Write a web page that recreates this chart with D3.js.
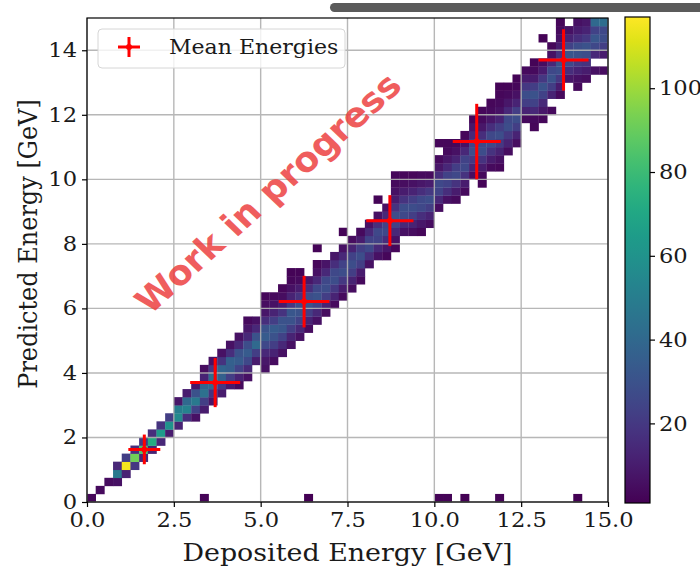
<!DOCTYPE html>
<html>
<head>
<meta charset="utf-8">
<script src="https://cdn.jsdelivr.net/npm/d3@7"></script>
<style>
  html, body { margin: 0; padding: 0; background: #fff; }
  svg { display: block; }
</style>
</head>
<body>
<svg id="chart" width="700" height="570"></svg>
<script>
// energy regression 2d histogram

// --- data ---
const xTicks = [0, 2.5, 5, 7.5, 10, 12.5, 15];
const yTicks = [0, 2, 4, 6, 8, 10, 12, 14];
const cbTicks = [20, 40, 60, 80, 100];
const binWidth = 0.25;

// per deposited-energy bin: first predicted-energy bin, then counts going up
const binLo = [0, 1, 2, 2, 3, 4, 5, 6, 7, 8,
  9, 10, 10, 11, 12, 13, 14, 14, 15, 17,
  16, 17, 18, 19, 20, 21, 22, 23, 24, 25,
  26, 27, 29, 30, 30, 31, 33, 33, 33, 34,
  36, 37, 37, 38, 40, 39, 41, 41, 43, 44,
  47, 46, 47, 48, 50, 52, 51, 52, 53, 53];
const binCounts = [
  [3], [4], [5], [6, 48, 14], [12, 115, 22],
  [20, 92, 16], [14, 84, 20], [12, 72, 16], [14, 64, 18], [10, 60, 22],
  [12, 56, 50, 8], [16, 52, 40, 10], [6, 24, 48, 30, 8], [10, 22, 44, 38, 12, 5], [8, 18, 40, 42, 20, 6],
  [10, 20, 36, 38, 18, 6], [9, 22, 35, 36, 16, 6], [4, 12, 24, 34, 30, 14, 6], [6, 14, 26, 34, 28, 14, 8, 4], [10, 22, 40, 30, 14, 6],
  [6, 8, 14, 26, 34, 30, 16, 8, 5, 3], [5, 12, 22, 30, 34, 22, 12, 6, 4], [6, 14, 24, 32, 30, 18, 10, 5, 3], [6, 12, 22, 30, 32, 20, 12, 6, 3, 2], [6, 14, 24, 30, 28, 18, 10, 4, 2],
  [5, 12, 22, 30, 28, 16, 8], [6, 14, 24, 30, 26, 14, 6, 3, 0, 2], [5, 12, 22, 28, 26, 14, 7], [4, 12, 20, 28, 26, 16, 8], [4, 10, 20, 28, 24, 14, 6, 0, 2],
  [5, 12, 22, 28, 24, 12, 5], [4, 10, 22, 28, 22, 10, 4], [6, 16, 26, 24, 14, 6], [6, 14, 24, 26, 16, 6, 0, 2], [3, 8, 16, 26, 24, 14, 6],
  [3, 6, 14, 24, 28, 18, 10, 6, 4, 3], [6, 14, 26, 28, 18, 10, 5, 3], [5, 12, 22, 28, 22, 12, 6, 3], [3, 8, 16, 26, 26, 16, 8, 4], [5, 12, 22, 28, 20, 10, 4],
  [5, 14, 24, 26, 16, 8, 4, 0, 3], [6, 16, 24, 24, 14, 8, 4, 3], [4, 10, 18, 26, 22, 12, 6, 3], [4, 10, 18, 26, 24, 14, 6, 3], [5, 12, 20, 28, 24, 14, 8, 3],
  [2, 4, 10, 18, 28, 26, 16, 8, 4, 3], [4, 10, 18, 26, 26, 16, 8, 4, 3], [3, 6, 12, 20, 28, 22, 12, 6, 4, 3, 2], [5, 12, 20, 28, 26, 14, 8, 4, 2], [5, 12, 22, 28, 22, 12, 6, 3, 2],
  [4, 12, 22, 28, 20, 10, 4], [3, 4, 14, 24, 30, 22, 10, 4, 2], [3, 8, 14, 24, 30, 20, 10, 5, 0, 0, 2], [4, 0, 12, 22, 30, 26, 14, 6, 3], [4, 10, 20, 28, 30, 18, 10, 6, 4, 3],
  [8, 16, 26, 32, 24, 12, 6], [4, 6, 12, 20, 30, 28, 16, 10, 6], [5, 10, 18, 28, 30, 20, 12, 8], [6, 0, 14, 26, 32, 24, 40], [5, 0, 10, 22, 28, 26, 42]
];
// events predicted at ~0 GeV
const zeroRowBins = [13, 25, 40, 41, 43, 47, 56];
const zeroRowCounts = [2, 1, 2, 2, 1, 2, 1];

// mean energies with spread
const meanDep = [1.65, 3.69, 6.25, 8.72, 11.22, 13.72];
const meanPred = [1.63, 3.70, 6.21, 8.72, 11.17, 13.70];
const errDep = [0.46, 0.72, 0.73, 0.68, 0.69, 0.72];
const errPred = [0.46, 0.76, 0.80, 0.79, 1.17, 0.95];

// --- setup ---
const svg = d3.select("#chart");
const SX = 1.076; // source picture is stretched sideways, so text is too
const serif = "'DejaVu Serif', serif";
const ink = "#1a1a1a";
const tickFont = 21;

const x = d3.scaleLinear().domain([0, 15]).range([87, 608]);
const y = d3.scaleLinear().domain([0, 15]).range([502, 18]);
const color = d3.scaleSequential(d3.interpolateViridis).domain([1, 117]);

// grey bar at the top of the screenshot
svg.append("rect")
  .attr("x", 330).attr("y", 3)
  .attr("width", 400).attr("height", 9)
  .attr("rx", 4.5)
  .attr("fill", "#5b5b5b");

// --- histogram cells ---
const cells = [];
binLo.forEach((lo, i) => {
  binCounts[i].forEach((c, k) => {
    if (c >= 1) cells.push({ i, j: lo + k, c });
  });
});
zeroRowBins.forEach((i, n) => cells.push({ i, j: 0, c: zeroRowCounts[n] }));

const cw = x(binWidth) - x(0);
const ch = y(0) - y(binWidth);
svg.append("g")
  .selectAll("rect")
  .data(cells)
  .join("rect")
    .attr("x", d => x(d.i * binWidth))
    .attr("y", d => y((d.j + 1) * binWidth))
    .attr("width", cw + 0.3)
    .attr("height", ch + 0.3)
    .attr("fill", d => color(d.c));

// --- grid (drawn over the cells) ---
const grid = svg.append("g")
  .attr("stroke", "#b0b0b0")
  .attr("stroke-width", 1.4)
  .attr("opacity", 0.9);
grid.selectAll(".gx").data(xTicks).join("line")
  .attr("x1", d => x(d)).attr("x2", d => x(d))
  .attr("y1", y(15)).attr("y2", y(0));
grid.selectAll(".gy").data(yTicks).join("line")
  .attr("x1", x(0)).attr("x2", x(15))
  .attr("y1", d => y(d)).attr("y2", d => y(d));

// frame
svg.append("rect")
  .attr("x", x(0)).attr("y", y(15))
  .attr("width", x(15) - x(0)).attr("height", y(0) - y(15))
  .attr("fill", "none").attr("stroke", "#000").attr("stroke-width", 1.2);

// --- axes ---
const gx = svg.append("g")
  .attr("transform", `translate(0,${y(0)})`)
  .call(d3.axisBottom(x).tickValues(xTicks).tickFormat(d3.format(".1f")).tickSize(5).tickPadding(5));
gx.select(".domain").remove();
gx.selectAll("line").attr("stroke", "#000").attr("stroke-width", 1.2);
gx.selectAll("text")
  .attr("font-family", serif).attr("font-size", tickFont).attr("fill", ink)
  .attr("transform", `scale(${SX},1)`);

const gy = svg.append("g")
  .attr("transform", `translate(${x(0)},0)`)
  .call(d3.axisLeft(y).tickValues(yTicks).tickSize(5).tickPadding(5));
gy.select(".domain").remove();
gy.selectAll("line").attr("stroke", "#000").attr("stroke-width", 1.2);
gy.selectAll("text")
  .attr("font-family", serif).attr("font-size", tickFont).attr("fill", ink)
  .attr("x", -10 / SX)
  .attr("dy", "0.3em")
  .attr("transform", `scale(${SX},1)`);

// axis titles
svg.append("text")
  .attr("transform", `translate(${(x(0) + x(15)) / 2},561) scale(${SX},1)`)
  .attr("text-anchor", "middle")
  .attr("font-family", serif).attr("font-size", 25).attr("fill", ink)
  .text("Deposited Energy [GeV]");

svg.append("text")
  .attr("transform", `translate(37,${(y(0) + y(15)) / 2 - 16}) scale(${SX},1) rotate(-90)`)
  .attr("text-anchor", "middle")
  .attr("font-family", serif).attr("font-size", 24).attr("fill", ink)
  .text("Predicted Energy [GeV]");

// --- colorbar ---
const defs = svg.append("defs");
const grad = defs.append("linearGradient")
  .attr("id", "viridis")
  .attr("x1", 0).attr("y1", 1).attr("x2", 0).attr("y2", 0);
d3.range(0, 1.0001, 0.05).forEach(t => {
  grad.append("stop").attr("offset", t).attr("stop-color", d3.interpolateViridis(t));
});

const cb = d3.scaleLinear().domain([1, 117]).range([503, 17]);
svg.append("rect")
  .attr("x", 625).attr("y", cb(117))
  .attr("width", 25).attr("height", cb(1) - cb(117))
  .attr("fill", "url(#viridis)")
  .attr("stroke", "#000").attr("stroke-width", 1.2);

const gc = svg.append("g")
  .attr("transform", "translate(650,0)")
  .call(d3.axisRight(cb).tickValues(cbTicks).tickSize(5).tickPadding(4));
gc.select(".domain").remove();
gc.selectAll("line").attr("stroke", "#000").attr("stroke-width", 1.2);
gc.selectAll("text")
  .attr("font-family", serif).attr("font-size", tickFont).attr("fill", ink)
  .attr("x", 9 / SX)
  .attr("transform", `scale(${SX},1)`);

// --- watermark ---
svg.append("text")
  .attr("transform", `translate(268,193) scale(${SX},1) rotate(-44)`)
  .attr("text-anchor", "middle")
  .attr("dy", "0.35em")
  .attr("font-family", "'DejaVu Sans', sans-serif")
  .attr("font-weight", "bold")
  .attr("font-size", 34)
  .attr("fill", "#ec3a3a")
  .attr("opacity", 0.82)
  .text("Work in progress");

// --- mean energies ---
const means = meanDep.map((d, i) => ({ dx: d, dy: meanPred[i], ex: errDep[i], ey: errPred[i] }));
const mg = svg.append("g").attr("stroke", "red").attr("stroke-width", 3);
mg.selectAll(".h").data(means).join("line")
  .attr("x1", d => x(d.dx - d.ex)).attr("x2", d => x(d.dx + d.ex))
  .attr("y1", d => y(d.dy)).attr("y2", d => y(d.dy));
mg.selectAll(".v").data(means).join("line")
  .attr("x1", d => x(d.dx)).attr("x2", d => x(d.dx))
  .attr("y1", d => y(d.dy - d.ey)).attr("y2", d => y(d.dy + d.ey));
svg.append("g").selectAll("circle").data(means).join("circle")
  .attr("cx", d => x(d.dx)).attr("cy", d => y(d.dy))
  .attr("r", 3).attr("fill", "red");

// --- legend ---
const lg = svg.append("g");
lg.append("rect")
  .attr("x", 98).attr("y", 29)
  .attr("width", 247).attr("height", 39)
  .attr("rx", 4)
  .attr("fill", "#fff").attr("fill-opacity", 0.8)
  .attr("stroke", "#d6d6d6").attr("stroke-width", 1);
lg.append("line").attr("x1", 118).attr("x2", 140).attr("y1", 47).attr("y2", 47)
  .attr("stroke", "red").attr("stroke-width", 3);
lg.append("line").attr("x1", 129).attr("x2", 129).attr("y1", 37).attr("y2", 57)
  .attr("stroke", "red").attr("stroke-width", 3);
lg.append("circle").attr("cx", 129).attr("cy", 47).attr("r", 3).attr("fill", "red");
lg.append("text")
  .attr("transform", `translate(169,54) scale(${SX},1)`)
  .attr("font-family", serif).attr("font-size", 20.5).attr("fill", ink)
  .text("Mean Energies");
</script>
</body>
</html>
